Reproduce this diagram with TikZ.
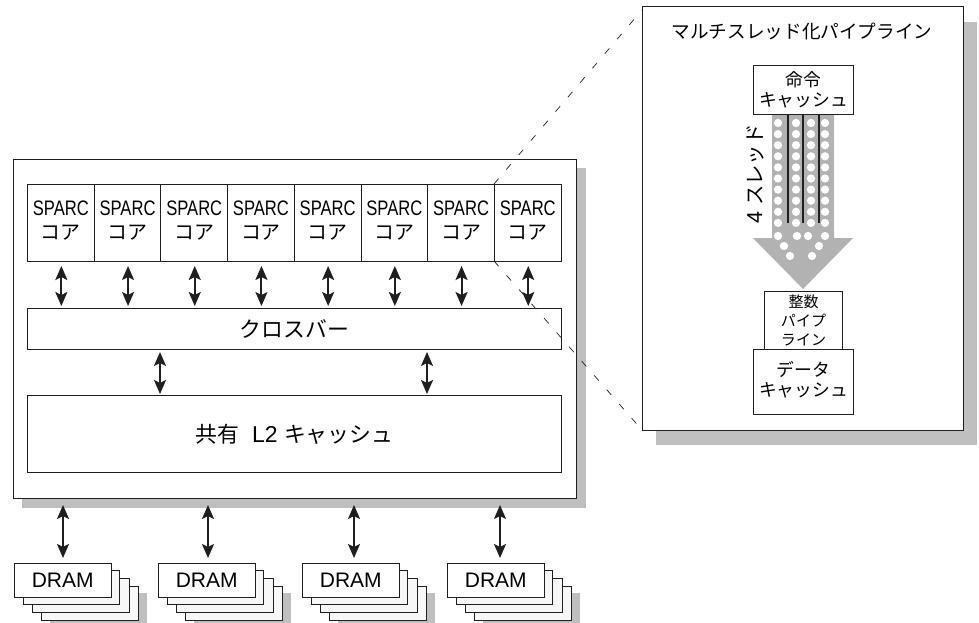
\documentclass[tikz,border=0pt]{standalone}
\usepackage{fontspec}
\setmainfont{Liberation Sans}
\newfontfamily\cjk{Noto Sans CJK JP}[Scale=0.95]
\newfontfamily\narrowsans{Liberation Sans}[FakeStretch=0.79]
\usetikzlibrary{arrows.meta}
\definecolor{dropgray}{gray}{0.75}
\definecolor{arrowgray}{gray}{0.70}
\definecolor{ink}{gray}{0.12}
\tikzset{
  x=1pt,y=-1pt,
  box/.style={draw=ink,line width=1pt,fill=white,inner sep=0pt,align=center,anchor=north west},
  biarrow/.style={draw=ink,line width=2pt,{Stealth[length=14pt,width=12pt,inset=3pt]}-{Stealth[length=14pt,width=12pt,inset=3pt]}},
  zoomline/.style={draw=ink,line width=0.7pt,dash pattern=on 7pt off 12pt},
  threadline/.style={draw=ink,line width=1.2pt},
  dot/.style={circle,fill=white,draw=none,minimum size=8.3pt,inner sep=0pt},
  kana/.style={font=\cjk\fontsize{19.6}{20.5}\selectfont,align=center},
}
\newcommand{\rect}[6][]{\node[box,minimum width=#4 pt,minimum height=#5 pt,#1] (#2) at #3 {#6};}
\begin{document}
\begin{tikzpicture}
\useasboundingbox (0,0) rectangle (979,623);
% main chip
\fill[dropgray] (22,168) rectangle (585.5,508);
\rect{chip}{(13,159)}{563}{339}{}
% cores
\foreach \i [evaluate=\i as \px using 27+66.7*\i] in {0,...,7}{
  \rect{core\i}{(\px,184)}{66.7}{77}{}
  \node[font=\narrowsans\fontsize{21}{22}\selectfont] at ([yshift=-24pt]core\i.north) {SPARC};
  \node[font=\cjk\fontsize{21}{22}\selectfont] at ([yshift=-49pt]core\i.north) {コア};
}
\rect[font=\cjk\fontsize{23}{25}\selectfont]{xbar}{(27,308)}{534}{41}{クロスバー}
\rect[font=\fontsize{23}{25}\selectfont]{ltwo}{(27,395)}{534}{77}{{\cjk 共有}\ \ L2 {\cjk キャッシュ}}
\foreach \i in {0,...,7}{
  \coordinate (cb\i) at (core\i.south |- xbar.north);
  \draw[biarrow] ([shift={(0.5,4)}]core\i.south) -- ([shift={(0.5,-2)}]cb\i);
}
\coordinate (xa) at (160,349); \coordinate (xb) at (160,395);
\coordinate (xc) at (427,349); \coordinate (xd) at (427,395);
\draw[biarrow] ([yshift=-3pt]xa) -- ([yshift=1pt]xb);
\draw[biarrow] ([yshift=-3pt]xc) -- ([yshift=1pt]xd);
% DRAM
\foreach \n/\px/\ax in {0/14/63,1/158/208,2/302/354,3/447/500}{
  \fill[dropgray] (\px+36,593) rectangle (\px+133,623);
  \foreach \k in {3,2,1}{
    \draw[ink,line width=0.8pt,fill=gray!6] (\px+9.2*\k,563+7.7*\k) rectangle (\px+96.5+9.2*\k,597+7.7*\k);
  }
  \rect[font=\fontsize{21}{23}\selectfont]{dram\n}{(\px,563)}{96.5}{34}{DRAM}
  \coordinate (dt\n) at (\ax,563);
  \coordinate (df\n) at (\ax,505);
  \draw[biarrow] (df\n) -- ([yshift=5pt]dt\n);
}
% zoom lines
\coordinate (za) at (494,184);
\coordinate (zb) at (494,261);
\coordinate (zc) at (642,10);
\coordinate (zd) at (642,430);
% right panel
\fill[dropgray] (656,22) rectangle (977,445);
\draw[ink,line width=1pt,fill=white] (642,7) rectangle (963.5,430);
\draw[zoomline] (za) -- (zc);
\draw[zoomline] (zb) -- (zd);
\node[kana] (title) at (802,31) {マルチスレッド化パイプライン};
% big arrow
\fill[arrowgray] (772,114) -- (834,114) -- (834,238) -- (853,238) -- (803,289) -- (753,238) -- (772,238) -- cycle;
\foreach \xx in {778,796,811,825}{
  \foreach \j in {0,...,9}{\node[dot] at (\xx,{123+11.1*\j}) {};}
}
\foreach \px/\py in {778/236,797/236,808/236,825/236,784/246,790/256,812/256,819/246}{\node[dot] at (\px,\py) {};}
\foreach \xx in {788,803,819}{\draw[threadline] (\xx,114) -- (\xx,223);}
\rect{icache}{(753,65)}{100}{49}{}
\node[kana,font=\cjk\fontsize{18.7}{19.5}\selectfont] at (icache.center) {命令\\キャッシュ};
\node[rotate=90,font=\fontsize{21.5}{23}\selectfont] (fourt) at (755,174) {4 {\cjk スレッド}};
\rect{intp}{(764,291)}{78}{58}{}
\node[kana,font=\cjk\fontsize{15.8}{19}\selectfont] at (intp.center) {整数\\パイプ\\ライン};
\rect{dcache}{(753,349)}{100}{65}{}
\node[kana,font=\cjk\fontsize{18.7}{20.3}\selectfont] at ([yshift=2pt]dcache.center) {データ\\キャッシュ};
\end{tikzpicture}
\end{document}
